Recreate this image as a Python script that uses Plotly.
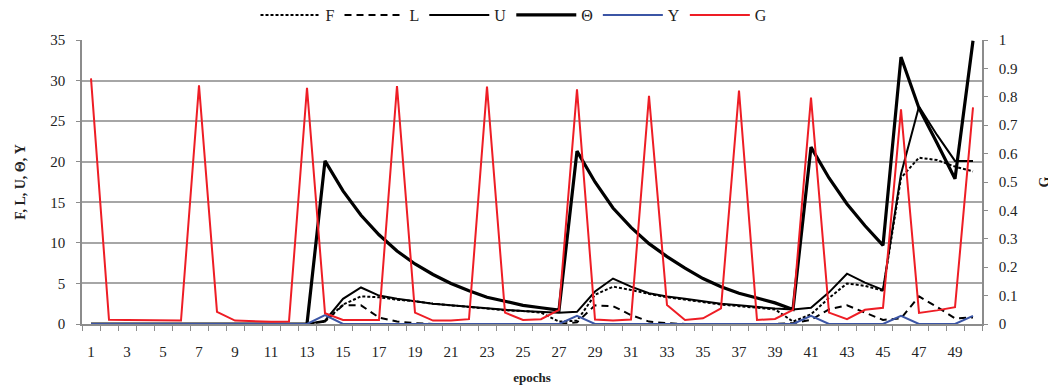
import plotly.graph_objects as go

epochs = list(range(1, 51))

F = [0]*13 + [0.3, 2.4, 3.4, 3.3, 3.0, 2.8, 2.5, 2.3, 2.1, 1.9, 1.7, 1.6, 1.4, 0.3,
              0.4, 3.6, 4.6, 4.2, 3.7, 3.3, 3.0, 2.7, 2.4, 2.2, 2.0, 1.8, 0.3,
              1.2, 3.2, 5.0, 4.7, 4.1, 18.0, 20.5, 20.2, 19.4, 18.8]
L = [0]*13 + [0.3, 2.3, 2.3, 0.8, 0.3, 0.1, 0, 0, 0, 0, 0, 0, 0, 0,
              0.2, 2.3, 2.2, 1.1, 0.3, 0.1, 0, 0, 0, 0, 0, 0, 0.1,
              0.5, 1.8, 2.3, 1.4, 0.5, 0.7, 3.4, 2.1, 0.7, 0.8]
U = [0]*13 + [0.4, 3.1, 4.5, 3.5, 3.1, 2.8, 2.5, 2.3, 2.1, 1.9, 1.75, 1.6, 1.5, 1.4,
              1.5, 4.0, 5.6, 4.6, 3.8, 3.4, 3.1, 2.8, 2.5, 2.3, 2.1, 1.9, 1.8,
              2.0, 3.9, 6.2, 5.1, 4.2, 18.5, 26.8, 23.3, 20.1, 20.1]
THETA = [0]*13 + [20.1, 16.4, 13.4, 11.0, 9.0, 7.4, 6.1, 5.0, 4.1, 3.3, 2.8, 2.3, 2.0, 1.7,
                  21.3, 17.5, 14.3, 11.9, 9.9, 8.3, 6.9, 5.6, 4.6, 3.8, 3.2, 2.6, 1.8,
                  21.8, 18.0, 14.8, 12.1, 9.7, 32.9, 26.6, 22.3, 17.9, 34.9]
Y = [0]*13 + [1.1] + [0]*13 + [1.0] + [0]*12 + [1.0, 0, 0, 0, 0, 1.0, 0, 0, 0, 1.0]
G = [0.865, 0.015, 0.014, 0.013, 0.013, 0.012, 0.84, 0.043, 0.012, 0.010,
     0.008, 0.009, 0.832, 0.038, 0.014, 0.014, 0.014, 0.838, 0.04, 0.012,
     0.012, 0.017, 0.836, 0.04, 0.014, 0.017, 0.05, 0.826, 0.016, 0.012,
     0.016, 0.803, 0.067, 0.014, 0.02, 0.055, 0.822, 0.014, 0.018, 0.05,
     0.797, 0.04, 0.017, 0.05, 0.057, 0.756, 0.039, 0.048, 0.059, 0.763]

x_ticks = list(range(1, 50, 2))
left_ticks = list(range(0, 36, 5))
right_ticks = [round(i * 0.1, 1) for i in range(11)]

FONT = "Liberation Serif, Times New Roman, serif"

fig = go.Figure()
fig.add_trace(go.Scatter(x=epochs, y=F, name="F", mode="lines",
                         line=dict(color="black", width=2, dash="3px,2px")))
fig.add_trace(go.Scatter(x=epochs, y=L, name="L", mode="lines",
                         line=dict(color="black", width=2, dash="7px,5px")))
fig.add_trace(go.Scatter(x=epochs, y=U, name="U", mode="lines",
                         line=dict(color="black", width=2)))
fig.add_trace(go.Scatter(x=epochs, y=THETA, name="Θ", mode="lines",
                         line=dict(color="black", width=3.2)))
fig.add_trace(go.Scatter(x=epochs, y=Y, name="Y", mode="lines",
                         line=dict(color="#3b55a5", width=2)))
fig.add_trace(go.Scatter(x=epochs, y=G, name="G", mode="lines", yaxis="y2",
                         line=dict(color="#ee1d25", width=2)))

fig.update_layout(
    width=1048, height=379,
    margin=dict(l=74, r=74, t=32, b=63, autoexpand=False),
    paper_bgcolor="white", plot_bgcolor="white",
    font=dict(family=FONT, size=15, color="#222"),
    showlegend=True,
    legend=dict(orientation="h", x=0.48, xanchor="center",
                y=1.088, yanchor="middle",
                font=dict(family=FONT, size=16, color="#222"),
                itemwidth=60, tracegroupgap=0),
    xaxis=dict(range=[0.5, 50.5], tickmode="array", tickvals=x_ticks,
               ticktext=[str(v) for v in x_ticks], ticks="", showgrid=False,
               zeroline=False, showline=True, linecolor="#8c8c8c", linewidth=1.5,
               minor=dict(tickmode="linear", tick0=0.5, dtick=1, ticks="outside",
                          ticklen=5, tickcolor="#8c8c8c", tickwidth=1, showgrid=False),
               tickfont=dict(family=FONT, size=15), ticklabelstandoff=13,
               title=dict(text="<b>epochs</b>", font=dict(family=FONT, size=13), standoff=14)),
    yaxis=dict(range=[0, 35], tickmode="array", tickvals=left_ticks,
               ticks="outside", ticklen=4, tickcolor="#8c8c8c",
               showgrid=True, gridcolor="#a6a6a6", gridwidth=1.5,
               zeroline=False, showline=True, linecolor="#8c8c8c", linewidth=1.5,
               tickfont=dict(family=FONT, size=15), ticklabelstandoff=8,
               title=dict(text="<b>F, L, U, Θ, Y</b>", font=dict(family=FONT, size=14), standoff=21)),
    yaxis2=dict(range=[0, 1], overlaying="y", side="right", tickmode="array",
                tickvals=right_ticks, ticktext=["0"] + [str(v) for v in right_ticks[1:-1]] + ["1"],
                ticks="outside", ticklen=4, tickcolor="#8c8c8c",
                showgrid=False, zeroline=False, showline=True,
                linecolor="#8c8c8c", linewidth=1.5,
                tickfont=dict(family=FONT, size=15), ticklabelstandoff=8,
                title=dict(text="<b>G</b>", font=dict(family=FONT, size=14), standoff=22)),
)

fig.write_html("out.html")
